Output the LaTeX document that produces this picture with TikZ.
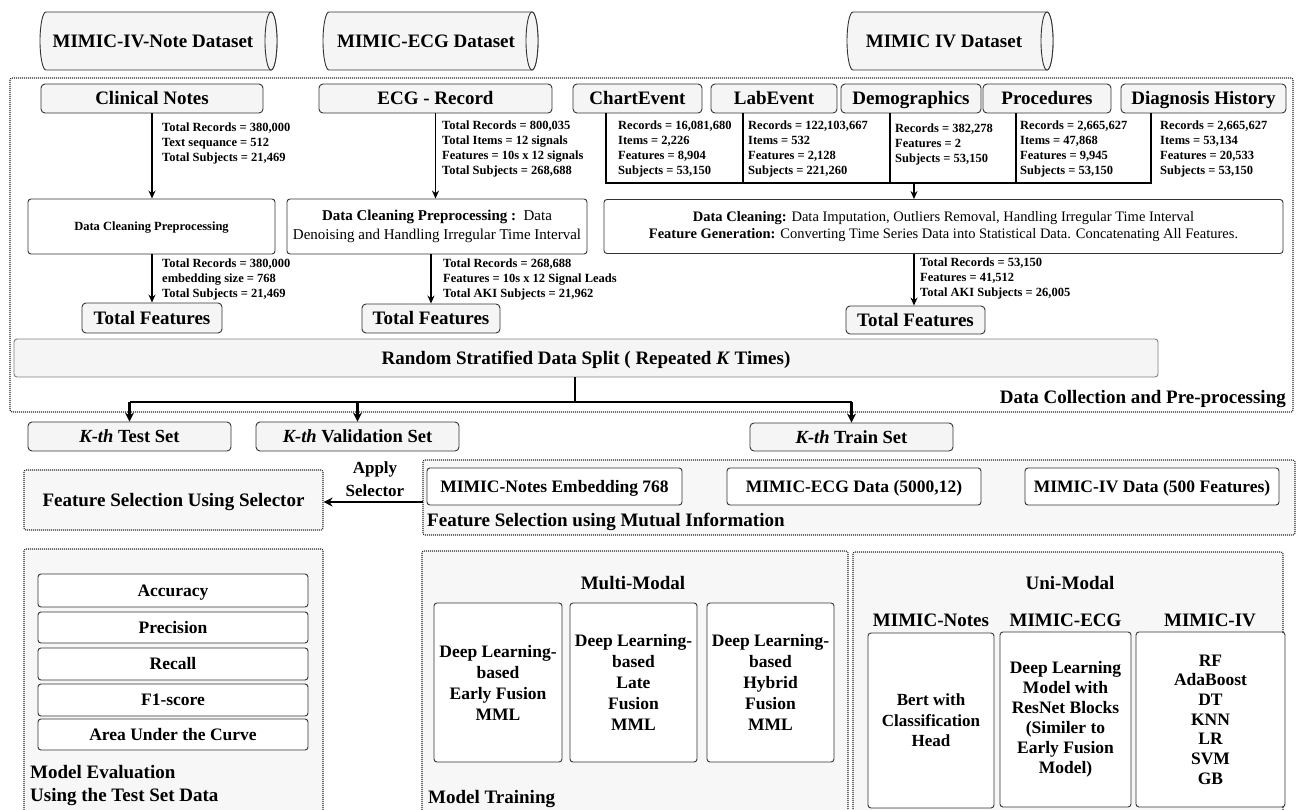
\documentclass[tikz,border=0pt]{standalone}
\usepackage{fontspec}
\setmainfont{Liberation Serif}
\usetikzlibrary{arrows.meta}
\definecolor{boxgray}{HTML}{F5F5F5}
\definecolor{areagray}{HTML}{F7F7F7}
\definecolor{edge}{HTML}{333333}
\newcommand\myfs[2]{\fontsize{#1}{#2}\selectfont}
\begin{document}
\begin{tikzpicture}[x=1pt,y=-1pt,
  tbox/.style={draw=edge, fill=boxgray, rounded corners=4pt, line width=0.9pt, inner sep=0pt, font=\bfseries\myfs{19}{22}, text height=12.6pt, text depth=0pt},
  wbox/.style={draw=edge, fill=white, rounded corners=3pt, line width=0.9pt, inner sep=0pt, align=center},
  capht/.style={text height=#1, text depth=0pt},
  stat/.style={anchor=west, align=left, inner sep=0pt, font=\bfseries\myfs{12.5}{15}},
  area/.style={draw=black!85, dash pattern=on 1pt off 1pt, line width=1.1pt, rounded corners=2pt},
  lbl/.style={inner sep=0pt, font=\bfseries\myfs{19}{23}},
  cyl/.style={draw=edge, fill=boxgray, line width=0.9pt},
  arr/.style={-{Stealth[length=8pt,width=7pt]}, line width=1.4pt},
  bigarr/.style={-{Stealth[length=9pt,width=9pt]}, line width=2.2pt},
  thk/.style={line width=2.4pt},
  bus/.style={line width=1.4pt}
]
\useasboundingbox (0,0) rectangle (1298,809);

% ---------- cylinders ----------
\filldraw[cyl] (46,12) -- (271,12) arc[start angle=90,end angle=-90,x radius=6pt,y radius=29pt] -- (46,70) arc[start angle=270,end angle=90,x radius=6pt,y radius=29pt] -- cycle;
\draw[cyl] (271,41) ellipse [x radius=6pt, y radius=29pt];
\node[lbl, capht=12.6pt] (cylN) at (153,41) {MIMIC-IV-Note Dataset};

\filldraw[cyl] (329,12) -- (532,12) arc[start angle=90,end angle=-90,x radius=6pt,y radius=29pt] -- (329,70) arc[start angle=270,end angle=90,x radius=6pt,y radius=29pt] -- cycle;
\draw[cyl] (532,41) ellipse [x radius=6pt, y radius=29pt];
\node[lbl, capht=12.6pt] (cylE) at (426,41) {MIMIC-ECG Dataset};

\filldraw[cyl] (853,12) -- (1047,12) arc[start angle=90,end angle=-90,x radius=6pt,y radius=29pt] -- (853,70) arc[start angle=270,end angle=90,x radius=6pt,y radius=29pt] -- cycle;
\draw[cyl] (1047,41) ellipse [x radius=6pt, y radius=29pt];
\node[lbl, capht=12.6pt] (cylM) at (944,41) {MIMIC IV Dataset};

% ---------- outer dotted area ----------
\draw[area] (10,78) rectangle (1293,412);
\node[lbl, anchor=east, capht=12.6pt] (dcplbl) at (1286,397) {Data Collection and Pre-processing};

% ---------- row 1 ----------
\node[tbox, minimum width=222pt, minimum height=29pt] (cn) at (152,98.5) {Clinical Notes};
\node[tbox, minimum width=233pt, minimum height=29pt] (er) at (435.5,98.5) {ECG - Record};
\node[tbox, minimum width=129pt, minimum height=29pt] (ce) at (637.5,98.5) {ChartEvent};
\node[tbox, minimum width=126pt, minimum height=29pt] (le) at (774,98.5) {LabEvent};
\node[tbox, minimum width=140pt, minimum height=29pt] (dg) at (911,98.5) {Demographics};
\node[tbox, minimum width=128pt, minimum height=29pt] (pr) at (1047,98.5) {Procedures};
\node[tbox, minimum width=165pt, minimum height=29pt] (dh) at (1203.5,98.5) {Diagnosis History};

% stats
\node[stat] (sN) at (162,143) {Total Records = 380,000\\Text sequance = 512\\Total Subjects = 21,469};
\node[stat] (sE) at (442,149) {Total Records = 800,035\\Total Items = 12 signals\\Features = 10s x 12 signals\\Total Subjects = 268,688};
\node[stat] (sCE) at (618,149) {Records = 16,081,680\\Items = 2,226\\Features = 8,904\\Subjects = 53,150};
\node[stat] (sLE) at (748,149) {Records = 122,103,667\\Items = 532\\Features = 2,128\\Subjects = 221,260};
\node[stat] (sDG) at (895,144) {Records = 382,278\\Features = 2\\Subjects = 53,150};
\node[stat] (sPR) at (1020,149) {Records = 2,665,627\\Items = 47,868\\Features = 9,945\\Subjects = 53,150};
\node[stat] (sDH) at (1160,149) {Records = 2,665,627\\Items = 53,134\\Features = 20,533\\Subjects = 53,150};

% ---------- row 2 ----------
\node[wbox, minimum width=247pt, minimum height=55pt, font=\bfseries\myfs{12.5}{15}, capht=8.3pt] (dcpN) at (151.5,226.5) {Data Cleaning Preprocessing};
\node[wbox, minimum width=300pt, minimum height=55pt, font=\myfs{15}{19}] (dcpE) at (437,226.5) {\textbf{Data Cleaning Preprocessing :}\ \ Data\\Denoising and Handling Irregular Time Interval};
\node[wbox, minimum width=679pt, minimum height=54pt, font=\myfs{14.5}{17}] (dcpM) at (943.5,226.5) {\textbf{Data Cleaning:} Data Imputation, Outliers Removal, Handling Irregular Time Interval\\\textbf{Feature Generation:} Converting Time Series Data into Statistical Data. Concatenating All Features.};

% MIMIC IV bus
\coordinate (b1) at (606,183);
\coordinate (b2) at (743,183);
\coordinate (b3) at (890,183);
\coordinate (b4) at (1016,183);
\coordinate (b5) at (1151,183);
\coordinate (bm) at (914,183);
\draw[bus] (ce.south -| b1) -- (b1) -- (b5) -- (dh.south -| b5);
\draw[bus] (le.south -| b2) -- (b2);
\draw[bus] (dg.south -| b3) -- (b3);
\draw[bus] (pr.south -| b4) -- (b4);
\draw[arr] (bm) -- (dcpM.north -| bm);

\draw[arr] (cn.south) -- (dcpN.north -| cn.south);
\draw[arr] (er.south) -- (dcpE.north -| er.south);

% ---------- Total features ----------
\node[tbox, minimum width=140pt, minimum height=30pt] (tfN) at (152,318) {Total Features};
\node[tbox, minimum width=138pt, minimum height=29pt] (tfE) at (431,318.5) {Total Features};
\node[tbox, minimum width=139pt, minimum height=28pt] (tfM) at (915.5,320) {Total Features};

\draw[arr] (dcpN.south -| tfN.north) -- (tfN.north);
\draw[arr] (dcpE.south -| tfE.north) -- (tfE.north);
\draw[arr] (dcpM.south -| bm) -- (tfM.north -| bm);

\node[stat] (sN2) at (162,279) {Total Records = 380,000\\embedding size = 768\\Total Subjects = 21,469};
\node[stat] (sE2) at (443,279) {Total Records = 268,688\\Features = 10s x 12 Signal Leads\\Total AKI Subjects = 21,962};
\node[stat] (sM2) at (920,278) {Total Records = 53,150\\Features = 41,512\\Total AKI Subjects = 26,005};

% ---------- split ----------
\node[draw=black!50, fill=boxgray, rounded corners=3pt, line width=0.9pt, inner sep=0pt, minimum width=1144pt, minimum height=38pt, font=\bfseries\myfs{19}{22}, capht=12.6pt] (split) at (586,358) {Random Stratified Data Split ( Repeated \textit{K} Times)};

\node[tbox, minimum width=203pt, minimum height=29pt, font=\bfseries\myfs{18.5}{22}, capht=12.2pt] (test) at (129.5,436.5) {\textit{K-th} Test Set};
\node[tbox, minimum width=203pt, minimum height=29pt, font=\bfseries\myfs{18.5}{22}, capht=12.2pt] (val) at (357.5,436.5) {\textit{K-th} Validation Set};
\node[tbox, minimum width=203pt, minimum height=28pt, font=\bfseries\myfs{18.5}{22}, capht=12.2pt] (train) at (851.5,437) {\textit{K-th} Train Set};

\coordinate (j) at (575,402);
\coordinate (jT) at (test.north |- j);
\coordinate (jV) at (val.north |- j);
\coordinate (jR) at (train.north |- j);
\draw[thk] (split.south -| j) -- (j);
\draw[thk] (jT) -- (jR);
\draw[bigarr] (jT) -- (test.north);
\draw[bigarr] (jV) -- (val.north);
\draw[bigarr] (jR) -- (train.north);

% ---------- feature selection ----------
\filldraw[area, fill=areagray] (423,460) rectangle (1295,535);
\coordinate (fsmiW) at (423,502);
\node[lbl, anchor=west, capht=12.6pt] (fsmilbl) at (427,520) {Feature Selection using Mutual Information};
\node[wbox, minimum width=255pt, minimum height=37pt, font=\bfseries\myfs{17.5}{21}, capht=11.6pt] (ne) at (554.5,486.5) {MIMIC-Notes Embedding 768};
\node[wbox, minimum width=254pt, minimum height=37pt, font=\bfseries\myfs{17.5}{21}, capht=11.6pt] (ed) at (854,486.5) {MIMIC-ECG Data (5000,12)};
\node[wbox, minimum width=254pt, minimum height=37pt, font=\bfseries\myfs{17.5}{21}, capht=11.6pt] (id) at (1152,486.5) {MIMIC-IV Data (500 Features)};

\node[area, fill=areagray, minimum width=299pt, minimum height=60pt, inner sep=0pt, font=\bfseries\myfs{19}{22}, capht=12.6pt] (fss) at (173.5,500) {Feature Selection Using Selector};
\draw[bigarr] (fsmiW) -- (fss.east |- fsmiW);
\node[inner sep=0pt, align=center, font=\bfseries\myfs{17}{23}] (apply) at (375,479) {Apply\\Selector};

% ---------- model evaluation ----------
\filldraw[area, fill=areagray] (24,549) rectangle (323,815);
\node[wbox, minimum width=270pt, minimum height=33pt, font=\bfseries\myfs{17.5}{21}, capht=11.6pt] (acc) at (173,590.5) {Accuracy};
\node[wbox, minimum width=270pt, minimum height=31pt, font=\bfseries\myfs{17.5}{21}, capht=11.6pt] (prec) at (173,627.5) {Precision};
\node[wbox, minimum width=270pt, minimum height=32pt, font=\bfseries\myfs{17.5}{21}, capht=11.6pt] (rec) at (173,664) {Recall};
\node[wbox, minimum width=270pt, minimum height=32pt, font=\bfseries\myfs{17.5}{21}, capht=11.6pt] (f1) at (173,700) {F1-score};
\node[wbox, minimum width=270pt, minimum height=31pt, font=\bfseries\myfs{17.5}{21}, capht=11.6pt] (auc) at (173,734.5) {Area Under the Curve};
\node[lbl, anchor=west, align=left] (melbl) at (30,785.5) {Model Evaluation\\Using the Test Set Data};

% ---------- model training ----------
\filldraw[area, fill=areagray] (422,551) rectangle (848,815);
\node[lbl, capht=12.6pt] (mmlbl) at (633,583) {Multi-Modal};
\node[wbox, minimum width=128pt, minimum height=159pt, font=\bfseries\myfs{17.5}{21}] (m1) at (498,682.5) {Deep Learning-\\based\\Early Fusion\\MML};
\node[wbox, minimum width=127pt, minimum height=159pt, font=\bfseries\myfs{17.5}{21}] (m2) at (633.5,682.5) {Deep Learning-\\based\\Late\\Fusion\\MML};
\node[wbox, minimum width=127pt, minimum height=159pt, font=\bfseries\myfs{17.5}{21}] (m3) at (770.5,682.5) {Deep Learning-\\based\\Hybrid\\Fusion\\MML};
\node[lbl, anchor=west, capht=12.6pt] (mtlbl) at (428,797) {Model Training};

% ---------- uni-modal ----------
\filldraw[area, fill=areagray] (853,552) rectangle (1283,815);
\node[lbl, capht=12.6pt] (umlbl) at (1070,583) {Uni-Modal};
\node[lbl, capht=12.6pt] (h1) at (931,620) {MIMIC-Notes};
\node[lbl, capht=12.6pt] (h2) at (1065.5,620) {MIMIC-ECG};
\node[lbl, capht=12.6pt] (h3) at (1210,620) {MIMIC-IV};
\node[wbox, minimum width=126pt, minimum height=175pt, font=\bfseries\myfs{17}{20.5}] (u1) at (931,720.5) {Bert with\\Classification\\Head};
\node[wbox, minimum width=131pt, minimum height=175pt, font=\bfseries\myfs{17.5}{20}] (u2) at (1065.5,719.5) {Deep Learning\\Model with\\ResNet Blocks\\(Similer to\\Early Fusion\\Model)};
\node[wbox, minimum width=149pt, minimum height=175pt, font=\bfseries\myfs{17.5}{19.7}] (u3) at (1210.5,719.5) {RF\\AdaBoost\\DT\\KNN\\LR\\SVM\\GB};
\end{tikzpicture}
\end{document}
